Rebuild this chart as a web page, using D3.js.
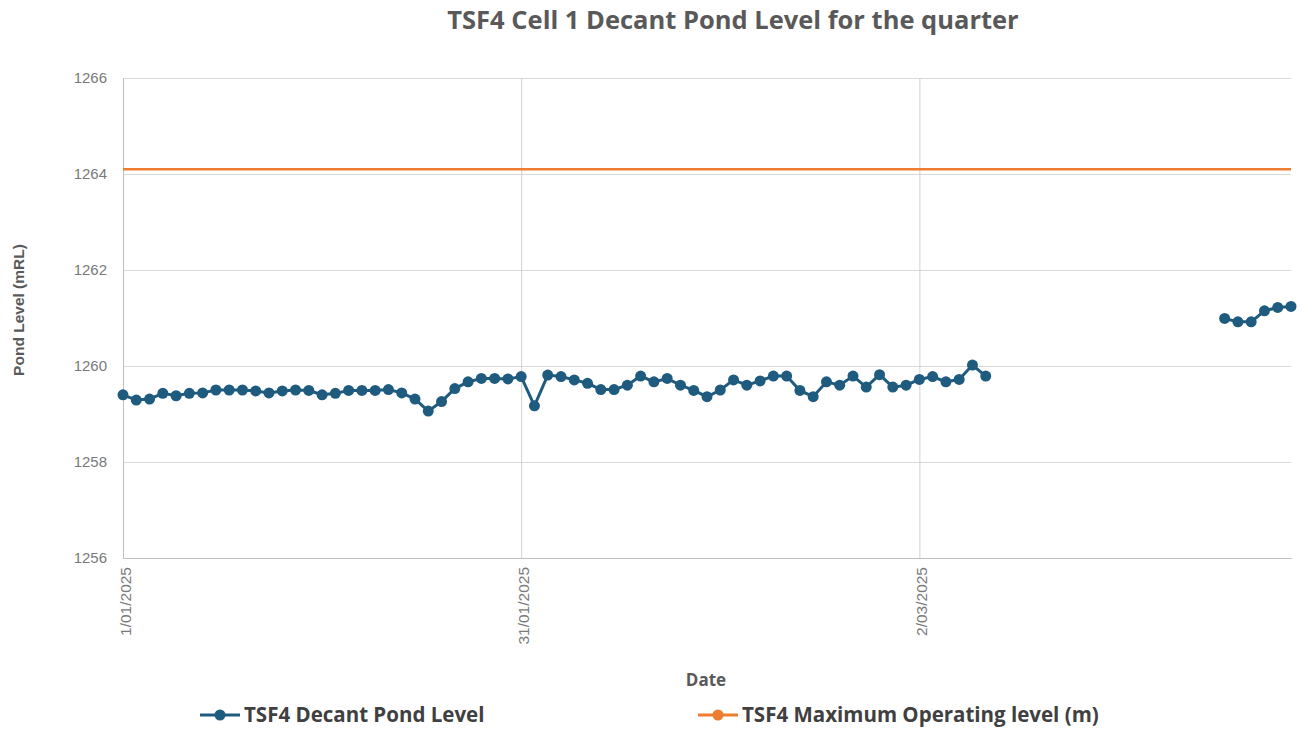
<!DOCTYPE html>
<html>
<head>
<meta charset="utf-8">
<script src="https://cdn.jsdelivr.net/npm/d3@7"></script>
<style>
  body { margin: 0; background: #fff; }
  svg text { font-family: "Liberation Sans", Arial, sans-serif; }
</style>
</head>
<body>
<div id="chart"></div>
<script>
// daily readings, first block 1 Jan - 7 Mar, second block 25 - 30 Mar
const pondDates = [
    "1/01/2025", "2/01/2025", "3/01/2025", "4/01/2025", "5/01/2025", "6/01/2025", "7/01/2025", "8/01/2025",
    "9/01/2025", "10/01/2025", "11/01/2025", "12/01/2025", "13/01/2025", "14/01/2025", "15/01/2025", "16/01/2025",
    "17/01/2025", "18/01/2025", "19/01/2025", "20/01/2025", "21/01/2025", "22/01/2025", "23/01/2025", "24/01/2025",
    "25/01/2025", "26/01/2025", "27/01/2025", "28/01/2025", "29/01/2025", "30/01/2025", "31/01/2025", "1/02/2025",
    "2/02/2025", "3/02/2025", "4/02/2025", "5/02/2025", "6/02/2025", "7/02/2025", "8/02/2025", "9/02/2025",
    "10/02/2025", "11/02/2025", "12/02/2025", "13/02/2025", "14/02/2025", "15/02/2025", "16/02/2025", "17/02/2025",
    "18/02/2025", "19/02/2025", "20/02/2025", "21/02/2025", "22/02/2025", "23/02/2025", "24/02/2025", "25/02/2025",
    "26/02/2025", "27/02/2025", "28/02/2025", "1/03/2025", "2/03/2025", "3/03/2025", "4/03/2025", "5/03/2025",
    "6/03/2025", "7/03/2025",
    "25/03/2025", "26/03/2025", "27/03/2025", "28/03/2025", "29/03/2025", "30/03/2025"
];
const pondLevels = [
    1259.40, 1259.29, 1259.31, 1259.43, 1259.38, 1259.43, 1259.44, 1259.50,
    1259.50, 1259.50, 1259.48, 1259.44, 1259.48, 1259.50, 1259.49, 1259.40,
    1259.43, 1259.49, 1259.49, 1259.49, 1259.51, 1259.44, 1259.31, 1259.06,
    1259.26, 1259.53, 1259.67, 1259.74, 1259.74, 1259.73, 1259.78, 1259.17,
    1259.81, 1259.78, 1259.71, 1259.64, 1259.51, 1259.51, 1259.60, 1259.79,
    1259.67, 1259.74, 1259.60, 1259.49, 1259.36, 1259.50, 1259.71, 1259.60,
    1259.69, 1259.79, 1259.79, 1259.49, 1259.36, 1259.67, 1259.60, 1259.79,
    1259.56, 1259.82, 1259.56, 1259.60, 1259.72, 1259.78, 1259.67, 1259.72,
    1260.02, 1259.79,
    1260.99, 1260.92, 1260.92, 1261.15, 1261.22, 1261.24
];
const maxLevelDates = ["1/01/2025", "30/03/2025"];
const maxLevels = [1264.1, 1264.1];

const yTicks = [1256, 1258, 1260, 1262, 1264, 1266];
const xTickLabels = ["1/01/2025", "31/01/2025", "2/03/2025"];
const seriesNames = ["TSF4 Decant Pond Level", "TSF4 Maximum Operating level (m)"];
const seriesColors = ["#1f5b7e", "#ed7d31"];

const margins = {top: 78, right: 12, bottom: 171, left: 123, width: 1303, height: 729};
const parseDate = d3.timeParse("%d/%m/%Y");

const svg = d3.select("#chart")
    .append("svg")
    .attr("width", margins.width)
    .attr("height", margins.height);

const xScale = d3.scaleTime()
    .domain([parseDate(maxLevelDates[0]), parseDate(maxLevelDates[1])])
    .range([margins.left, margins.width - margins.right]);

const yScale = d3.scaleLinear()
    .domain([yTicks[0], yTicks[yTicks.length - 1]])
    .range([margins.height - margins.bottom, margins.top]);

// grid
svg.append("g")
    .attr("class", "grid")
    .attr("transform", "translate(" + margins.left + ",0)")
    .call(d3.axisLeft(yScale)
        .tickValues(yTicks)
        .tickSize(-(margins.width - margins.left - margins.right))
        .tickFormat(""))
    .call(g => g.select(".domain").remove())
    .selectAll("line").style("stroke", "#d9d9d9");

svg.append("g")
    .attr("class", "grid")
    .attr("transform", "translate(0," + (margins.height - margins.bottom) + ")")
    .call(d3.axisBottom(xScale)
        .tickValues(xTickLabels.map(parseDate))
        .tickSize(-(margins.height - margins.top - margins.bottom))
        .tickFormat(""))
    .call(g => g.select(".domain").remove())
    .selectAll("line").style("stroke", "#d0d0d0");

// axes
const yAxis = svg.append("g")
    .attr("transform", "translate(" + margins.left + ",0)")
    .call(d3.axisLeft(yScale).tickValues(yTicks).tickSize(0).tickPadding(16).tickFormat(d3.format("d")));
yAxis.select(".domain").style("stroke", "#bfbfbf");
yAxis.selectAll("text").style("fill", "#7a7a7a").style("font-size", "15px");

const xAxis = svg.append("g")
    .attr("transform", "translate(0," + (margins.height - margins.bottom) + ")")
    .call(d3.axisBottom(xScale)
        .tickValues(xTickLabels.map(parseDate))
        .tickSize(0)
        .tickFormat(d3.timeFormat("%-d/%m/%Y")));
xAxis.select(".domain").style("stroke", "#bfbfbf");
xAxis.selectAll("text")
    .attr("transform", "rotate(-90)")
    .attr("x", -9)
    .attr("y", 2)
    .attr("dy", "0.35em")
    .style("text-anchor", "end")
    .style("fill", "#7a7a7a")
    .style("font-size", "15.5px");

// max operating level
const maxData = maxLevelDates.map((d, i) => ({date: parseDate(d), value: maxLevels[i]}));
svg.append("path")
    .datum(maxData)
    .attr("fill", "none")
    .attr("stroke", seriesColors[1])
    .attr("stroke-width", 2.5)
    .attr("d", d3.line().x(d => xScale(d.date)).y(d => yScale(d.value)));

// pond level, broken where readings are missing
const pondData = pondDates.map((d, i) => ({date: parseDate(d), value: pondLevels[i]}));
const segments = [];
pondData.forEach((p, i) => {
    if (i === 0 || d3.timeDay.count(pondData[i - 1].date, p.date) > 1) segments.push([]);
    segments[segments.length - 1].push(p);
});

const pondLine = d3.line()
    .x(d => xScale(d.date))
    .y(d => yScale(d.value));

svg.append("g")
    .selectAll("path")
    .data(segments)
    .enter().append("path")
    .attr("fill", "none")
    .attr("stroke", seriesColors[0])
    .attr("stroke-width", 3)
    .attr("d", pondLine);

svg.append("g")
    .selectAll("circle")
    .data(pondData)
    .enter().append("circle")
    .attr("cx", d => xScale(d.date))
    .attr("cy", d => yScale(d.value))
    .attr("r", 5.5)
    .attr("fill", seriesColors[0]);

// titles
svg.append("text")
    .attr("x", 733)
    .attr("y", 29)
    .attr("text-anchor", "middle")
    .style("font-family", "'Open Sans', sans-serif")
    .style("font-weight", "700")
    .style("font-size", "25.5px")
    .style("fill", "#595959")
    .text("TSF4 Cell 1 Decant Pond Level for the quarter");

svg.append("text")
    .attr("transform", "translate(24," + 310 + ") rotate(-90)")
    .attr("text-anchor", "middle")
    .style("font-weight", "700")
    .style("font-size", "15.5px")
    .style("fill", "#595959")
    .text("Pond Level (mRL)");

svg.append("text")
    .attr("x", 706)
    .attr("y", 686)
    .attr("text-anchor", "middle")
    .style("font-family", "'Open Sans', sans-serif")
    .style("font-weight", "700")
    .style("font-size", "17px")
    .style("fill", "#595959")
    .text("Date");

// legend
const legendX = [200, 698];
const legend = svg.append("g")
    .selectAll("g")
    .data(seriesNames)
    .enter().append("g")
    .attr("transform", (d, i) => "translate(" + legendX[i] + ",715)");
legend.append("line")
    .attr("x1", 0).attr("x2", 40)
    .attr("stroke", (d, i) => seriesColors[i])
    .attr("stroke-width", 3);
legend.append("circle")
    .attr("cx", 20)
    .attr("r", 5.5)
    .attr("fill", (d, i) => seriesColors[i]);
legend.append("text")
    .attr("x", 44)
    .attr("dy", "0.35em")
    .style("font-family", "'Open Sans', sans-serif")
    .style("font-weight", "700")
    .style("font-size", "20.5px")
    .style("fill", "#404040")
    .text(d => d);
</script>
</body>
</html>
